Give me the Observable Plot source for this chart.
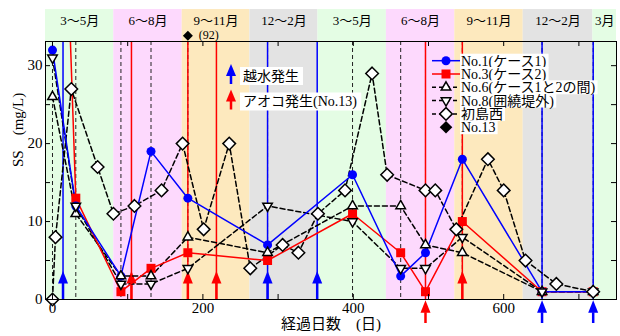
<!DOCTYPE html>
<html><head><meta charset="utf-8">
<script src="https://cdn.jsdelivr.net/npm/d3@7"></script>
<script src="https://cdn.jsdelivr.net/npm/@observablehq/plot@0.6"></script>
<style>
html,body{margin:0;padding:0;background:#fff;}
#chart svg{display:block;}
</style>
</head><body><div id="chart"></div>
<script>
// ---- data ----
const seasonLabels = ["3～5月","6～8月","9～11月","12～2月","3～5月","6～8月","9～11月","12～2月","3月"];
const seasonKinds  = ["spring","summer","autumn","winter","spring","summer","autumn","winter","spring"];
const seasonBounds = [-9.3, 81.5, 172.5, 262.5, 353, 444, 535, 626, 718.5, 750];

const sampleDays = [0, 31, 91, 131, 180, 286, 399, 463, 496, 545, 651, 719];
const no1Vals = [32, 12, 3, 19, 13, 7, 16, 3, 6, 18, 1, 1];
const no3Vals = [100, 13, 1, 4, 6, 5, 11, 6, 1, 10, 1, 1];
const no6Vals = [26, 11, 3, 3, 8, 6, 12, 12, 7, 6, 1, 1];
const no8Vals = [31, 12, 2, 2, 4, 12, 10, 4, 4, 8, 1, 1];

const hatsuDays = [0, 4, 25, 60, 81, 109, 145, 173, 201, 235, 263, 306, 327, 353, 389, 425, 445, 496, 509, 537, 579, 600, 629, 670, 719];
const hatsuVals = [0, 8, 27, 17, 11, 12, 14, 20, 9, 20, 4, 7, 6, 11, 14, 29, 16, 14, 14, 9, 18, 14, 5, 2, 1];

const no13Days = [180];
const no13Vals = [92];

// events: overflow (越水) and algal bloom (アオコ)
const overflowInside = [14, 286, 352];
const overflowBelow  = [651, 719];
const algaeInside = [105, 180, 218, 545];
const algaeBelow  = [496];

const xTickVals = [0, 100, 200, 300, 400, 500, 600, 700];
const xLabelVals = [0, 200, 400, 600];
const yTickVals = [0, 5, 10, 15, 20, 25, 30];
const yLabelVals = [0, 10, 20, 30];

const legendLabels = ["No.1(ケース1)","No.3(ケース2)","No.6(ケース1と2の間)","No.8(囲繞堤外)","初島西","No.13"];
const noteLabels = ["越水発生","アオコ発生(No.13)"];
const xTitle = "経過日数　(日)";
const yTitle = "SS　(mg/L)";

// ---- helpers ----
const FONT = "'Liberation Serif','Noto Sans CJK JP',serif";
const poly = pts => ({draw(ctx, size){const r=Math.sqrt(size/Math.PI);ctx.moveTo(pts[0][0]*r,pts[0][1]*r);for(const [x,y] of pts.slice(1))ctx.lineTo(x*r,y*r);ctx.closePath();}});
const circleSym = {draw(ctx,size){const r=Math.sqrt(size/Math.PI);ctx.moveTo(r,0);ctx.arc(0,0,r,0,2*Math.PI);}};
const squareSym = poly([[-0.9,-0.9],[0.9,-0.9],[0.9,0.9],[-0.9,0.9]]);
const triUp = poly([[0,-1],[0.866,0.5],[-0.866,0.5]]);
const triDown = poly([[0,1],[0.866,-0.5],[-0.866,-0.5]]);
const diamondSym = poly([[0,-1],[1,0],[0,1],[-1,0]]);
const arrowHead = poly([[0,-1.25],[0.5,0],[-0.5,0]]);

const rows = (days, vals) => days.map((d,i)=>({day:d, v:vals[i]}));
const no1 = rows(sampleDays, no1Vals);
const no3 = rows(sampleDays, no3Vals);
const no6 = rows(sampleDays, no6Vals);
const no8 = rows(sampleDays, no8Vals);
const hatsu = rows(hatsuDays, hatsuVals);
const no13 = rows(no13Days, no13Vals);

const seasonColor = {spring:"#e4fde4", summer:"#fdd9fd", autumn:"#fde9be", winter:"#e3e3e3"};
const bands = seasonLabels.map((label,i)=>({label, kind:seasonKinds[i], x1:seasonBounds[i], x2:seasonBounds[i+1]}));

const yTop = 33.1, yStrip = 37.2, yStripText = 35.8, yNote = 33.85;
const W = 620, H = 336, mL = 45, mR = 4, mT = 41, mB = 37;
const fw = W-mL-mR, fh = H-mT-mB;

const dash = "5,3";
const chart = Plot.plot({
  width: W, height: H,
  marginLeft: mL, marginRight: mR, marginTop: mT, marginBottom: mB,
  x: {domain: [-9.3, 750]},
  y: {domain: [0, yTop]},
  color: {type: "identity"},
  style: {fontFamily: FONT, fontSize: "15px", background: "white", overflow: "visible", color: "black"},
  marks: [
    Plot.rect(bands, {x1:"x1", x2:"x2", y1:()=>0, y2:()=>yStrip, fill:d=>seasonColor[d.kind]}),
    Plot.text(bands, {x:d=>(d.x1+d.x2)/2, y:()=>yStripText, text:"label", fontSize:13, fill:"black"}),
    Plot.ruleX(sampleDays, {x:d=>d, stroke:"#222", strokeWidth:1, strokeDasharray:"4,3"}),
    Plot.ruleX(overflowInside.concat(overflowBelow), {x:d=>d, stroke:"#0000ff", strokeWidth:1.5}),
    Plot.ruleX(algaeInside.concat(algaeBelow), {x:d=>d, stroke:"#ff0000", strokeWidth:1.5}),
    // arrows
    Plot.ruleX(overflowInside, {x:d=>d, y1:()=>0, y2:()=>2.05, stroke:"#0000ff", strokeWidth:2.5}),
    Plot.dot(overflowInside, {x:d=>d, y:()=>2.05, symbol:arrowHead, r:10, fill:"#0000ff", stroke:"none"}),
    Plot.ruleX(algaeInside, {x:d=>d, y1:()=>0, y2:()=>2.05, stroke:"#ff0000", strokeWidth:2.5}),
    Plot.dot(algaeInside, {x:d=>d, y:()=>2.05, symbol:arrowHead, r:10, fill:"#ff0000", stroke:"none"}),
    Plot.ruleX(overflowBelow, {x:d=>d, y1:()=>-3.08, y2:()=>-1.7, stroke:"#0000ff", strokeWidth:2.5}),
    Plot.dot(overflowBelow, {x:d=>d, y:()=>-1.7, symbol:arrowHead, r:10, fill:"#0000ff", stroke:"none"}),
    Plot.ruleX(algaeBelow, {x:d=>d, y1:()=>-3.08, y2:()=>-1.7, stroke:"#ff0000", strokeWidth:2.5}),
    Plot.dot(algaeBelow, {x:d=>d, y:()=>-1.7, symbol:arrowHead, r:10, fill:"#ff0000", stroke:"none"}),
    // series lines
    Plot.line(no6, {x:"day", y:"v", stroke:"black", strokeWidth:1.5, strokeDasharray:dash}),
    Plot.line(no8, {x:"day", y:"v", stroke:"black", strokeWidth:1.5, strokeDasharray:dash}),
    Plot.line(hatsu, {x:"day", y:"v", stroke:"black", strokeWidth:1.5, strokeDasharray:dash}),
    Plot.line(no3, {x:"day", y:"v", stroke:"#ff0000", strokeWidth:1.5, clip:true}),
    Plot.line(no1, {x:"day", y:"v", stroke:"#0000ff", strokeWidth:1.5}),
    // markers
    Plot.dot(no3.filter(d=>d.v<=yTop), {x:"day", y:"v", symbol:squareSym, r:5, fill:"#ff0000", stroke:"none"}),
    Plot.dot(no1, {x:"day", y:"v", symbol:circleSym, r:4.5, fill:"#0000ff", stroke:"none"}),
    Plot.dot(no6, {x:"day", y:"v", symbol:triUp, r:5.5, fill:"white", stroke:"black", strokeWidth:1.5}),
    Plot.dot(no8, {x:"day", y:"v", symbol:triDown, r:5.5, fill:"white", stroke:"black", strokeWidth:1.5}),
    Plot.dot(hatsu, {x:"day", y:"v", symbol:diamondSym, r:6.3, fill:"white", stroke:"black", strokeWidth:1.5}),
    // off-scale No.13 value
    Plot.dot(no13, {x:"day", y:()=>yNote, symbol:diamondSym, r:5, fill:"black", stroke:"none"}),
    Plot.text(no13, {x:"day", y:()=>yNote, text:d=>`(${d.v})`, dx:11, textAnchor:"start", fontSize:12, fill:"black"}),
    Plot.frame({stroke:"black", strokeWidth:1}),
    // ticks (inward)
    Plot.tickX(xTickVals, {x:d=>d, insetTop:fh-5, stroke:"black"}),
    Plot.tickX(xTickVals, {x:d=>d, insetBottom:fh-5, stroke:"black"}),
    Plot.tickY(yTickVals, {y:d=>d, insetRight:fw-5, stroke:"black"}),
    Plot.tickY(yTickVals, {y:d=>d, insetLeft:fw-5, stroke:"black"}),
    Plot.axisX({ticks:xLabelVals, tickSize:0, tickPadding:3, label:null, fontSize:15}),
    Plot.axisY({ticks:yLabelVals, tickSize:0, tickPadding:3, label:null, fontSize:15}),
    Plot.text([xTitle], {frameAnchor:"bottom", dy:29, fontSize:15, fill:"black"}),
    Plot.text([yTitle], {frameAnchor:"left", dx:-27, dy:-3.5, rotate:-90, fontSize:15, fill:"black"})
  ]
});
document.getElementById("chart").appendChild(chart);

// ---- legend and notes (layout in pixels) ----
const svg = d3.select(chart);
const legendSyms = [
  {sym:circleSym, r:4.5, fill:"#0000ff", stroke:"none", line:"#0000ff", dash:null},
  {sym:squareSym, r:5, fill:"#ff0000", stroke:"none", line:"#ff0000", dash:null},
  {sym:triUp, r:5.5, fill:"white", stroke:"black", line:"black", dash:"4,3"},
  {sym:triDown, r:5.5, fill:"white", stroke:"black", line:"black", dash:"4,3"},
  {sym:diamondSym, r:6.3, fill:"white", stroke:"black", line:"black", dash:"4,3"},
  {sym:diamondSym, r:6.3, fill:"black", stroke:"none", line:null, dash:null}
];
const lg = svg.append("g").attr("font-family", FONT).attr("font-size", 14).attr("text-anchor", "start");
legendLabels.forEach((label, i) => {
  const y = 60.7 + i*13.3;
  const s = legendSyms[i];
  const row = lg.append("g");
  const t = row.append("text").attr("x", 461).attr("y", y).attr("dy", "0.35em")
     .attr("text-anchor", "start").attr("fill","black").text(label);
  const bb = t.node().getBBox();
  row.insert("rect", "text").attr("x", 460).attr("y", y-7).attr("width", bb.width+3).attr("height", 14).attr("fill", "white");
  if (s.line) row.append("line").attr("x1", 432).attr("x2", 460).attr("y1", y).attr("y2", y)
      .attr("stroke", s.line).attr("stroke-width", 1.5).attr("stroke-dasharray", s.dash);
  row.append("path").attr("transform", `translate(446,${y})`).attr("d", d3.symbol(s.sym, Math.PI*s.r*s.r)())
     .attr("fill", s.fill).attr("stroke", s.stroke).attr("stroke-width", 1.5);
});
const noteColors = ["#0000ff", "#ff0000"];
const noteY = [76, 101.5];
noteLabels.forEach((label, i) => {
  const y = noteY[i], c = noteColors[i];
  const g = lg.append("g");
  const t = g.append("text").attr("x", 243).attr("y", y).attr("dy", "0.35em")
     .attr("text-anchor", "start").attr("fill","black").text(label);
  const bb = t.node().getBBox();
  g.insert("rect", "text").attr("x", 240).attr("y", y-9).attr("width", bb.width+7).attr("height", 18).attr("fill", "white");
  g.append("line").attr("x1", 231).attr("x2", 231).attr("y1", y-2).attr("y2", y+8).attr("stroke", c).attr("stroke-width", 2.5);
  g.append("path").attr("d", `M231,${y-12}L236,${y}L226,${y}Z`).attr("fill", c);
});
</script>
</body></html>
